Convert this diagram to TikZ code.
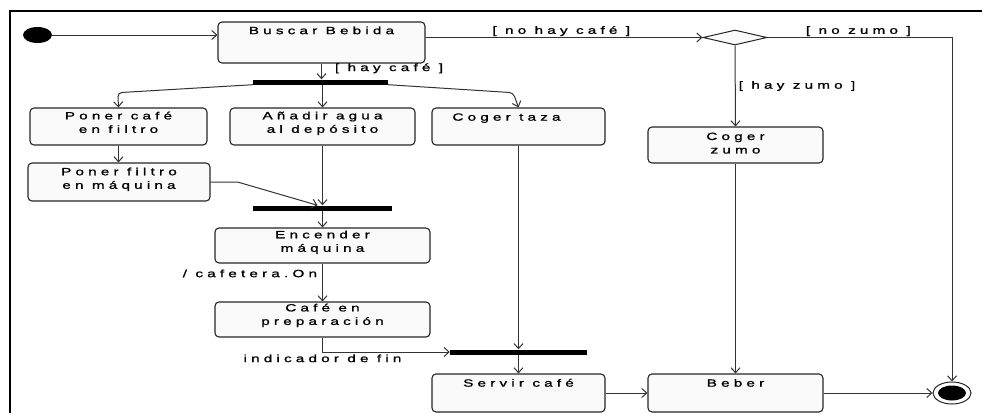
\documentclass[tikz,border=0pt]{standalone}
\usepackage{fontspec}
\newfontfamily\umlfont{Liberation Sans}[FakeStretch=1.45,LetterSpace=40,FakeBold=1.2]
\usetikzlibrary{arrows.meta,shapes.geometric}
\begin{document}
\begin{tikzpicture}[x=1pt,y=-1pt,
  line/.style={draw=black!80, line width=1pt},
  flow/.style={line, -{Straight Barb[length=5pt,width=9pt]}},
  act/.style={draw=black!85, line width=1.1pt, fill=black!2, rounded corners=4pt, inner sep=0pt},
  txt/.style={font=\umlfont\fontsize{10.5}{13.5}\selectfont, align=center, inner sep=0pt, anchor=north,
    execute at begin node={\rule{0pt}{9pt}}},
  lbl/.style={font=\umlfont\fontsize{10.5}{13}\selectfont, inner sep=0pt},
  bar/.style={fill=black, inner sep=0pt, minimum height=5pt},
  start/.style={ellipse, fill=black, inner sep=0pt},
]
\useasboundingbox (0,0) rectangle (982,413);

% frame
\draw[line width=2.5pt] (10,413) -- (10,11) -- (982,11);

% initial and final nodes
\node[start, minimum width=29pt, minimum height=16pt] (init) at (37.5,35) {};
\node[ellipse, draw=black!85, line width=1pt, minimum width=38pt, minimum height=22pt, inner sep=0pt] (final) at (952,393) {};
\node[start, minimum width=28pt, minimum height=15pt] (finaldot) at (final) {};

% decision
\node[diamond, draw=black!85, line width=1pt, fill=black!2, minimum width=64pt, minimum height=15pt, inner sep=0pt] (dec) at (735,37.5) {};

% synchronisation bars
\node[bar, minimum width=135pt] (fork) at (320.5,82) {};
\node[bar, minimum width=139pt] (joinA) at (322.5,208) {};
\node[bar, minimum width=137pt] (joinB) at (518.5,352) {};

% activities
\node[act, minimum width=207pt, minimum height=41pt] (buscar) at (321.5,42.5) {};
\node[txt] (tbuscar) at ([yshift=-3.5pt]buscar.north) {Buscar Bebida};

\node[act, minimum width=177pt, minimum height=37pt] (poner) at (118.5,126.5) {};
\node[txt] (tponer) at ([yshift=-4pt]poner.north) {Poner café\\en filtro};

\node[act, minimum width=185pt, minimum height=37pt] (anadir) at (322.5,126.5) {};
\node[txt] (tanadir) at ([yshift=-4pt]anadir.north) {Añadir agua\\al depósito};

\node[act, minimum width=173pt, minimum height=37pt] (taza) at (518.5,126.5) {};
\node[txt] (ttaza) at ([xshift=-12pt,yshift=-4pt]taza.north) {Coger taza};

\node[act, minimum width=182pt, minimum height=38pt] (filtro) at (119,182) {};
\node[txt] (tfiltro) at ([yshift=-5pt]filtro.north) {Poner filtro\\en máquina};

\node[act, minimum width=215pt, minimum height=35pt] (encender) at (322.5,245.5) {};
\node[txt] (tencender) at ([yshift=-3pt]encender.north) {Encender\\máquina};

\node[act, minimum width=215pt, minimum height=35pt] (cafe) at (322.5,319.5) {};
\node[txt] (tcafe) at ([yshift=-2pt]cafe.north) {Café en\\preparación};

\node[act, minimum width=173pt, minimum height=38pt] (servir) at (518.5,393) {};
\node[txt] (tservir) at ([yshift=-4pt]servir.north) {Servir café};

\node[act, minimum width=175pt, minimum height=36pt] (zumo) at (735.5,145) {};
\node[txt] (tzumo) at ([yshift=-6pt]zumo.north) {Coger\\zumo};

\node[act, minimum width=175pt, minimum height=38pt] (beber) at (735.5,393) {};
\node[txt] (tbeber) at ([yshift=-4pt]beber.north) {Beber};

% transitions
\draw[flow] (init) -- (init -| buscar.west);
\draw[flow] (dec.west -| buscar.east) -- (dec.west)
  node[lbl, pos=0.49, above=1pt] {[ no hay café ]};
\draw[flow] (dec.east) -| (final.north)
  node[lbl, pos=0.246, above=1pt] {[ no zumo ]};
\draw[flow] (dec.south) -- (zumo.north)
  node[lbl, pos=0.5, right=3pt] {[ hay zumo ]};
\draw[flow] (zumo.south) -- (beber.north);
\draw[flow] (beber.east) -- (final.west);

\draw[flow] (buscar.south) -- (buscar.south |- fork.north)
  node[lbl, pos=0.3, right=13pt] {[ hay café ]};
\draw[flow, rounded corners=4pt] (fork.south west) -- ++(-135,8) -- (poner.north);
\draw[flow] (fork.south -| anadir.north) -- (anadir.north);
\draw[flow, rounded corners=4pt] (fork.south east) -- ++(125,8) -- (taza.north);

\draw[flow] (poner.south) -- (poner.south |- filtro.north);
\draw[flow] (filtro.east) -- ++(27,0) -- ([xshift=-5pt]joinA.north);
\draw[flow] (anadir.south) -- (anadir.south |- joinA.north);
\draw[flow] (joinA.south) -- (encender.north);
\draw[flow] (encender.south) -- (cafe.north)
  node[lbl, pos=0.26, left=5pt] {/ cafetera.On};
\draw[flow] (cafe.south) |- (joinB.west)
  node[lbl, pos=0.5, below=2pt] {indicador de fin};
\draw[flow] (taza.south) -- (taza.south |- joinB.north);
\draw[flow] (joinB.south) -- (servir.north);
\draw[flow] (servir.east) -- (beber.west);
\end{tikzpicture}
\end{document}
